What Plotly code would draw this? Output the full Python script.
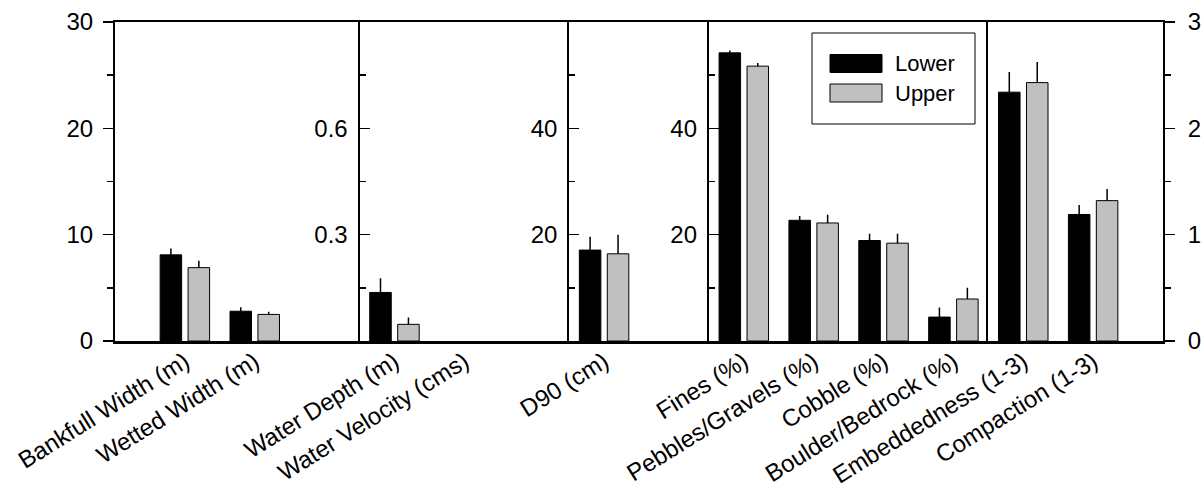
import plotly.graph_objects as go

# ---------------- data ----------------
categories = [
    "Bankfull Width (m)", "Wetted Width (m)",
    "Water Depth (m)", "Water Velocity (cms)",
    "D90 (cm)",
    "Fines (%)", "Pebbles/Gravels (%)", "Cobble (%)", "Boulder/Bedrock (%)",
    "Embeddedness (1-3)", "Compaction (1-3)",
]
panel_of = [0, 0, 1, 1, 2, 3, 3, 3, 3, 4, 4]

series_names = ["Lower", "Upper"]
lower_mean = [8.1, 2.8, 0.137, None, 17.1, 54.2, 22.7, 18.9, 4.5, 2.34, 1.19]
lower_se = [0.6, 0.37, 0.04, None, 2.5, 0.45, 0.8, 1.25, 1.8, 0.19, 0.09]
upper_mean = [6.9, 2.5, 0.047, None, 16.4, 51.7, 22.2, 18.4, 7.9, 2.43, 1.32]
upper_se = [0.65, 0.25, 0.019, None, 3.6, 0.6, 1.55, 1.75, 2.1, 0.195, 0.11]

y_max = [30, 0.9, 60, 60, 3]
y_major = [[0, 10, 20, 30], [0.3, 0.6], [20, 40], [20, 40], [0, 1, 2, 3]]
y_minor = [[5, 15, 25], [0.15, 0.45, 0.75], [10, 30, 50], [10, 30, 50], [0.5, 1.5, 2.5]]

# ---------------- styling / layout ----------------
colors = ["#000000", "#c0c0c0"]
FONT = "Liberation Sans, Arial, sans-serif"
W, H = 1204, 495
ML, MR, MT, MB = 115, 41, 22, 154
pads = [(1, 1.5), (0.5, 1.5), (0.5, 1.5), (0.5, 0.5), (0.5, 1.0)]

npanel = len(y_max)
panel_cats = [[c for c, p in zip(categories, panel_of) if p == k] for k in range(npanel)]
widths = [len(panel_cats[k]) - 1 + pads[k][0] + pads[k][1] for k in range(npanel)]
total = sum(widths)

fig = go.Figure()
series = [(lower_mean, lower_se), (upper_mean, upper_se)]

start = 0.0
for k in range(npanel):
    idx = [i for i, p in enumerate(panel_of) if p == k]
    xs = list(range(len(idx)))
    sfx = "" if k == 0 else str(k + 1)
    for s, (mean, se) in enumerate(series):
        fig.add_trace(go.Bar(
            x=xs,
            y=[mean[i] for i in idx],
            name=series_names[s],
            showlegend=False,
            marker=dict(color=colors[s], line=dict(color="#000000", width=1)),
            error_y=dict(type="data", symmetric=False,
                         array=[se[i] for i in idx],
                         arrayminus=[0 if se[i] is not None else None for i in idx],
                         width=0, thickness=1.5, color="#000000"),
            xaxis="x" + sfx, yaxis="y" + sfx,
        ))
    d0 = start / total
    d1 = (start + widths[k]) / total
    start += widths[k]
    xa = dict(
        domain=[d0, d1],
        range=[-pads[k][0], len(idx) - 1 + pads[k][1]],
        tickmode="array", tickvals=xs, ticktext=panel_cats[k],
        tickangle=-32, ticks="", showgrid=False, zeroline=False,
        showline=True, linecolor="#000000", linewidth=2.5, mirror=True,
        ticklabelstandoff=-5,
        tickfont=dict(family=FONT, size=24, color="#000000"),
        anchor="y" + sfx, fixedrange=True, automargin=False,
    )
    is_right = (k == npanel - 1)
    ya = dict(
        range=[0, y_max[k]],
        tickmode="array", tickvals=y_major[k],
        ticks="outside" if (k == 0 or is_right) else "inside",
        ticklen=10, tickwidth=1.5, tickcolor="#000000",
        minor=dict(tickmode="array", tickvals=y_minor[k],
                   ticks="outside" if (k == 0 or is_right) else "inside",
                   ticklen=6, tickwidth=1.5, tickcolor="#000000", showgrid=False),
        showgrid=False, zeroline=False,
        showline=True, linecolor="#000000", linewidth=2,
        side="right" if is_right else "left",
        mirror=True if is_right else False,
        ticklabelstandoff=8 if is_right else 5,
        tickfont=dict(family=FONT, size=24, color="#000000"),
        anchor="x" + sfx, fixedrange=True, automargin=False,
    )
    fig.layout["xaxis" + sfx] = xa
    fig.layout["yaxis" + sfx] = ya

# ---------------- custom legend ----------------
pw, ph = W - ML - MR, H - MT - MB

def px(xp):
    return (xp - ML) / pw

def py(yp):
    return (H - MB - yp) / ph

shapes = [dict(type="rect", xref="paper", yref="paper",
               x0=px(812), x1=px(975), y0=py(124), y1=py(33),
               line=dict(color="#000000", width=1), fillcolor="rgba(0,0,0,0)")]
annotations = []
for s, name in enumerate(series_names):
    yc = 63.5 + s * 29.5
    shapes.append(dict(type="rect", xref="paper", yref="paper",
                       x0=px(830), x1=px(882), y0=py(yc + 9), y1=py(yc - 9),
                       line=dict(color="#000000", width=1), fillcolor=colors[s]))
    annotations.append(dict(xref="paper", yref="paper", x=px(893), y=py(yc),
                            text=name, showarrow=False, xanchor="left", yanchor="middle",
                            font=dict(family=FONT, size=22, color="#000000")))

fig.update_layout(
    width=W, height=H,
    margin=dict(l=ML, r=MR, t=MT, b=MB, pad=0, autoexpand=False),
    paper_bgcolor="white", plot_bgcolor="white",
    barmode="group", bargap=0.2, bargroupgap=0.23,
    showlegend=False,
    shapes=shapes, annotations=annotations,
    font=dict(family=FONT, size=24, color="#000000"),
)

fig.write_html(
    "out.html",
    config={"displayModeBar": False, "staticPlot": True},
    post_script="document.body.style.margin='0';document.body.style.overflow='hidden';",
)
